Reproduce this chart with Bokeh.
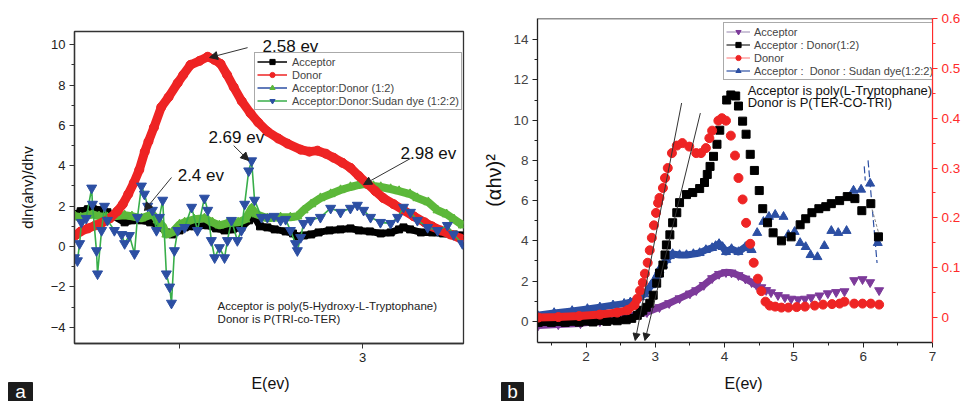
from bokeh.plotting import figure
from bokeh.models import (Range1d, LinearAxis, FixedTicker, Legend, LegendItem,
                          Arrow, NormalHead, Label, CustomJSTickFormatter, Span)
from bokeh.layouts import row, column
from bokeh.embed import file_html
from bokeh.resources import INLINE

FONT = "Liberation Sans"
RED = "#ee2424"
GREEN = "#5cb83a"
GREEN_LINE = "#38ae4a"
BLUE = "#2c4fa3"
PURPLE = "#7d3a9a"
RED_AXIS = "#ff2b2b"

# ---------------- Panel a data ----------------
a_acc_x = [2.215, 2.23, 2.25, 2.262, 2.28, 2.303, 2.32, 2.35, 2.37, 2.396, 2.42, 2.44, 2.464, 2.48, 2.50,
           2.514, 2.54, 2.577, 2.60, 2.623, 2.645, 2.669, 2.69, 2.705, 2.72, 2.74, 2.76, 2.79, 2.81, 2.822,
           2.84, 2.86, 2.88, 2.91, 2.94, 2.967, 2.99, 3.02, 3.05, 3.077, 3.10, 3.112, 3.13, 3.16, 3.19,
           3.22, 3.25, 3.274]
a_acc_y = [1.6, 1.75, 1.85, 1.9, 1.8, 1.7, 1.5, 1.2, 1.3, 1.3, 1.2, 1.1, 0.7, 0.6, 0.8, 0.95, 1.0, 1.05,
           0.9, 0.8, 0.85, 0.95, 1.3, 1.45, 1.0, 0.95, 0.85, 0.75, 0.65, 0.5, 0.55, 0.6, 0.7, 0.8, 0.85,
           0.9, 0.8, 0.75, 0.65, 0.7, 0.85, 0.95, 0.85, 0.7, 0.7, 0.65, 0.6, 0.55]

a_don_x = [2.215, 2.23, 2.25, 2.27, 2.29, 2.31, 2.33, 2.345, 2.36, 2.375, 2.39, 2.405, 2.415, 2.43, 2.45,
           2.47, 2.495, 2.51, 2.53, 2.555, 2.577, 2.595, 2.612, 2.63, 2.648, 2.67, 2.694, 2.715, 2.74,
           2.77, 2.795, 2.831, 2.855, 2.877, 2.90, 2.921, 2.945, 2.967, 2.99, 3.014, 3.035, 3.057, 3.085,
           3.112, 3.14, 3.17, 3.19, 3.213, 3.24, 3.268]
a_don_y = [0.55, 0.75, 0.9, 1.05, 1.2, 1.4, 1.75, 2.1, 2.6, 3.15, 3.8, 4.7, 5.2, 5.9, 6.9, 7.4, 8.1, 8.5,
           9.0, 9.2, 9.4, 9.25, 9.05, 8.5, 7.9, 7.2, 6.6, 6.15, 5.7, 5.35, 5.1, 4.8, 4.7, 4.75, 4.6, 4.4,
           4.15, 3.9, 3.5, 3.1, 2.75, 2.4, 2.1, 1.8, 1.5, 1.2, 1.0, 0.8, 0.6, 0.4]

a_ad_x = [2.215, 2.23, 2.25, 2.262, 2.28, 2.303, 2.32, 2.35, 2.37, 2.396, 2.426, 2.44, 2.455, 2.464, 2.48,
          2.50, 2.514, 2.54, 2.568, 2.59, 2.609, 2.63, 2.66, 2.68, 2.697, 2.71, 2.74, 2.776, 2.803, 2.822,
          2.839, 2.86, 2.885, 2.913, 2.94, 2.967, 2.99, 3.003, 3.03, 3.05, 3.077, 3.10, 3.13, 3.15, 3.18,
          3.205, 3.23, 3.25, 3.274]
a_ad_y = [1.5, 1.45, 1.55, 1.6, 1.5, 1.45, 1.5, 1.55, 1.5, 1.4, 1.6, 1.3, 1.0, 0.6, 0.7, 1.1, 1.2, 1.35,
          1.4, 1.2, 1.05, 1.15, 1.2, 1.35, 1.9, 1.6, 1.4, 1.45, 1.45, 1.5, 1.8, 2.1, 2.4, 2.6, 2.8, 2.95,
          3.05, 3.1, 3.0, 2.95, 2.85, 2.75, 2.6, 2.4, 2.2, 1.8, 1.6, 1.35, 1.05]

a_sud_x = [2.213, 2.221, 2.227, 2.232, 2.245, 2.260, 2.262, 2.273, 2.276, 2.287,
           2.295, 2.303, 2.322, 2.342, 2.350, 2.363, 2.377, 2.385, 2.396, 2.404,
           2.413, 2.426, 2.437, 2.445, 2.454, 2.464, 2.473, 2.478, 2.486, 2.495,
           2.514, 2.533, 2.549, 2.568, 2.577, 2.587, 2.596, 2.609, 2.623, 2.631,
           2.642, 2.658, 2.669, 2.678, 2.689, 2.697, 2.705, 2.724, 2.740, 2.758,
           2.776, 2.790, 2.803, 2.817, 2.822, 2.831, 2.839, 2.858, 2.885, 2.913,
           2.940, 2.967, 2.986, 3.003, 3.022, 3.049, 3.077, 3.096, 3.112, 3.131,
           3.150, 3.178, 3.205, 3.232, 3.249, 3.273]
a_sud_y = [-0.55, -0.7, 0.15, 1.2, 1.4, 2.9, 2.1, -0.2, -1.35, 0.8,
           2.0, 1.3, 0.8, 0.6, 0.15, 0.55, -0.35, 1.45, 3.0, 2.6,
           2.0, 1.8, 0.8, 1.45, 2.3, -1.35, -2.0, -2.8, -0.2, 0.8,
           0.95, 1.95, 0.8, 2.4, 1.8, 0.3, -0.55, -0.05, -0.55, 0.3,
           1.3, 0.3, 0.8, 2.1, 3.75, 4.25, 2.3, 1.45, 1.45, 1.5,
           1.3, 1.35, 0.8, 0.15, -0.2, 0.45, 1.15, 1.3, 1.45, 1.9,
           1.7, 1.9, 2.05, 1.8, 1.45, 1.2, 1.15, 1.45, 1.95, 1.7,
           1.3, 0.95, 0.8, 1.05, 0.6, 0.15]

a_xticks = [2.5, 3.0]
a_yticks = [-4, -2, 0, 2, 4, 6, 8, 10]
a_yminor = [-3, -1, 1, 3, 5, 7, 9]

a_peak_text = ["2.58 ev", "2.69 ev", "2.4 ev", "2.98 ev"]
a_peak_tx = [2.727, 2.579, 2.495, 3.104]
a_peak_ty = [9.9, 5.4, 3.51, 4.6]
a_arr_x0 = [2.686, 2.648, 2.478, 3.131]
a_arr_y0 = [9.85, 5.0, 3.42, 4.36]
a_arr_x1 = [2.582, 2.689, 2.404, 3.003]
a_arr_y1 = [9.36, 4.26, 1.78, 3.07]

# ---------------- Panel b data ----------------
b_acc_x = [1.31, 1.6, 1.92, 2.2, 2.49, 2.7, 2.88, 3.06, 3.2, 3.35, 3.5, 3.59, 3.7, 3.82, 3.92, 4.02, 4.1,
           4.2, 4.3, 4.39, 4.46, 4.53, 4.6, 4.67, 4.77, 4.87, 4.96, 5.06, 5.16, 5.25, 5.37, 5.49, 5.61,
           5.73, 5.87, 5.99, 6.10, 6.23]
b_acc_y = [-0.2, -0.15, -0.1, 0.0, 0.15, 0.3, 0.45, 0.7, 0.9, 1.14, 1.38, 1.54, 1.8, 2.14, 2.35, 2.44,
           2.42, 2.29, 2.12, 1.94, 1.8, 1.69, 1.55, 1.44, 1.3, 1.19, 1.12, 1.09, 1.12, 1.19, 1.28, 1.39,
           1.45, 1.49, 2.04, 2.09, 1.94, 1.54]

b_ad_x = [1.31, 1.5, 1.7, 1.9, 2.1, 2.3, 2.45, 2.58, 2.66, 2.74, 2.78, 2.82, 2.87, 2.92, 2.97, 3.02,
          3.06, 3.11, 3.14, 3.16, 3.21, 3.25, 3.31, 3.35, 3.45, 3.54, 3.64, 3.71, 3.75, 3.79, 3.84, 3.89,
          3.93, 4.03, 4.09, 4.16, 4.20, 4.26, 4.31, 4.37, 4.43, 4.50, 4.55, 4.62, 4.70, 4.82, 4.96, 5.09,
          5.17, 5.26, 5.36, 5.46, 5.54, 5.66, 5.77, 5.88, 5.98, 6.11, 6.22]
b_ad_y = [-0.05, -0.05, -0.05, -0.04, -0.03, 0.0, 0.03, 0.08, 0.15, 0.3, 0.45, 0.55, 0.7, 0.9, 1.3, 1.9,
          2.4, 2.8, 3.3, 3.8, 4.3, 4.9, 5.4, 5.9, 6.3, 6.4, 6.6, 6.9, 7.3, 7.7, 8.2, 8.8, 9.5, 11.0,
          11.25, 11.2, 10.7, 9.95, 9.3, 8.3, 7.5, 6.5, 5.6, 4.9, 4.4, 4.0, 4.2, 4.8, 5.1, 5.4, 5.6, 5.7,
          5.85, 6.0, 6.2, 6.1, 5.5, 5.85, 4.2]

b_don_x = [1.31, 1.6, 1.9, 2.2, 2.45, 2.6, 2.7, 2.74, 2.78, 2.82, 2.85, 2.89, 2.92, 2.95, 2.98, 3.01,
           3.04, 3.06, 3.11, 3.14, 3.18, 3.24, 3.31, 3.39, 3.49, 3.59, 3.66, 3.73, 3.78, 3.82, 3.91, 3.96,
           4.02, 4.09, 4.15, 4.20, 4.26, 4.31, 4.37, 4.42, 4.48, 4.53, 4.59, 4.65, 4.73, 4.82, 4.92, 5.04,
           5.16, 5.30, 5.42, 5.55, 5.66, 5.73, 5.87, 5.99, 6.11, 6.23]
b_don_y = [0.0, 0.001, 0.003, 0.006, 0.01, 0.015, 0.025, 0.038, 0.054, 0.07, 0.088, 0.11, 0.135, 0.16,
           0.185, 0.21, 0.23, 0.24, 0.26, 0.28, 0.30, 0.33, 0.345, 0.35, 0.343, 0.33, 0.33, 0.34, 0.36,
           0.375, 0.395, 0.40, 0.395, 0.365, 0.325, 0.28, 0.237, 0.19, 0.148, 0.11, 0.078, 0.053, 0.032,
           0.024, 0.022, 0.02, 0.02, 0.021, 0.022, 0.024, 0.026, 0.027, 0.028, 0.032, 0.028, 0.028,
           0.028, 0.026]

b_sud_x = [1.30, 1.54, 1.80, 2.02, 2.20, 2.39, 2.55, 2.64, 2.72, 2.78, 2.84, 2.89, 2.94, 2.99, 3.03, 3.06,
           3.11, 3.16, 3.21, 3.25, 3.35, 3.45, 3.55, 3.64, 3.73, 3.82, 3.87, 3.92, 3.97, 4.02, 4.10, 4.20,
           4.30, 4.39, 4.47, 4.56, 4.64, 4.73, 4.85, 4.92, 5.01, 5.09, 5.17, 5.24, 5.34, 5.44, 5.54, 5.64,
           5.76, 5.86, 5.97, 6.10, 6.21]
b_sud_y = [0.30, 0.42, 0.52, 0.62, 0.70, 0.80, 0.88, 0.95, 1.05, 1.20, 1.35, 1.55, 1.80, 2.05, 2.30,
           2.55, 2.80, 3.05, 3.25, 3.35, 3.30, 3.30, 3.35, 3.40, 3.55, 3.65, 3.75, 3.85, 3.70, 3.45, 3.60,
           3.45, 3.70, 3.55, 4.40, 4.95, 5.20, 5.30, 5.20, 4.30, 4.45, 3.90, 3.70, 3.30, 3.20, 3.75, 4.50,
           4.40, 4.50, 6.50, 6.55, 6.85, 3.90]

b_spike_xs = [[6.015, 6.03], [6.07, 6.20]]
b_spike_ys = [[7.7, 7.0], [8.0, 2.9]]
b_grey_x = [6.11, 6.23]
b_grey_y = [5.8, 4.3]

b_tan_x0 = [3.38, 3.65]
b_tan_y0 = [10.85, 10.35]
b_tan_x1 = [2.71, 2.85]
b_tan_y1 = [-0.95, -0.95]

b_xticks = [2, 3, 4, 5, 6, 7]
b_xminor = [1.5, 2.5, 3.5, 4.5, 5.5, 6.5]
b_yticks = [0, 2, 4, 6, 8, 10, 12, 14]
b_yminor = [1, 3, 5, 7, 9, 11, 13]
b_rticks = [0.0, 0.1, 0.2, 0.3, 0.4, 0.5, 0.6]
b_rminor = [0.05, 0.15, 0.25, 0.35, 0.45, 0.55]

# legend proxy point, placed outside the visible ranges
proxy_x = [0.0]
proxy_y = [-50.0]

# bottom strip: panel letters and x-axis titles
strip_letters = ["a", "b"]
strip_titles = ["E(ev)", "E(ev)"]

PLOT_H = 372
STRIP_H = 29


def style_axis(ax, size="13px", color="#222", line_color="#333"):
    ax.major_label_text_font = FONT
    ax.major_label_text_font_size = size
    ax.major_label_text_color = color
    ax.axis_label_text_font = FONT
    ax.axis_label_text_font_style = "normal"
    ax.axis_label_text_color = "#111"
    ax.major_tick_in = 0
    ax.major_tick_out = 5
    ax.minor_tick_in = 0
    ax.minor_tick_out = 3
    ax.major_label_standoff = 4
    ax.axis_line_color = line_color
    ax.major_tick_line_color = line_color
    ax.minor_tick_line_color = line_color
    ax.axis_line_width = 1.3


# ================= Panel a =================
pa = figure(width=480, height=PLOT_H, x_range=Range1d(2.213, 3.276), y_range=Range1d(-4.8, 10.65),
            output_backend="svg", toolbar_location=None,
            min_border_left=74, min_border_right=17, min_border_top=31, min_border_bottom=PLOT_H - 343)
pa.grid.visible = False
pa.outline_line_color = "#333"
pa.outline_line_width = 1.3

xa = pa.xaxis[0]
style_axis(xa)
xa.ticker = FixedTicker(ticks=a_xticks, minor_ticks=[])
xa.formatter = CustomJSTickFormatter(code="return Math.abs(tick - 3) < 1e-9 ? '3' : '';")

ya = pa.yaxis[0]
style_axis(ya)
ya.ticker = FixedTicker(ticks=a_yticks, minor_ticks=a_yminor)
ya.axis_label = "dln(ahv)/dhv"
ya.axis_label_text_font_size = "15px"
ya.axis_label_standoff = 12

pa.line(a_acc_x, a_acc_y, line_width=7, color="black", line_join="round")
pa.scatter(a_acc_x, a_acc_y, marker="square", size=7, color="black")
pa.line(a_ad_x, a_ad_y, line_width=8, color=GREEN, line_join="round")
pa.scatter(a_ad_x, a_ad_y, marker="triangle", size=9, color=GREEN)
pa.line(a_don_x, a_don_y, line_width=9, color=RED, line_join="round")
pa.scatter(a_don_x, a_don_y, marker="circle", size=9, color=RED)
pa.line(a_sud_x, a_sud_y, line_width=1.6, color=GREEN_LINE)
pa.scatter(a_sud_x, a_sud_y, marker="inverted_triangle", size=10, color=BLUE)

la1 = pa.line(proxy_x, proxy_y, color="black", line_width=1.5)
sa1 = pa.scatter(proxy_x, proxy_y, marker="square", color="black")
la2 = pa.line(proxy_x, proxy_y, color=RED, line_width=1.5)
sa2 = pa.scatter(proxy_x, proxy_y, marker="circle", color=RED)
la3 = pa.line(proxy_x, proxy_y, color=BLUE, line_width=1.5)
sa3 = pa.scatter(proxy_x, proxy_y, marker="triangle", color=GREEN)
la4 = pa.line(proxy_x, proxy_y, color=GREEN_LINE, line_width=1.5)
sa4 = pa.scatter(proxy_x, proxy_y, marker="inverted_triangle", color=BLUE)
leg_a = Legend(items=[LegendItem(label="Acceptor", renderers=[la1, sa1]),
                      LegendItem(label="Donor", renderers=[la2, sa2]),
                      LegendItem(label="Acceptor:Donor (1:2)", renderers=[la3, sa3]),
                      LegendItem(label="Acceptor:Donor:Sudan dye (1:2:2)", renderers=[la4, sa4])],
               location=(180, 233), padding=2, margin=0, spacing=0, label_height=13, glyph_height=13,
               glyph_width=30, label_standoff=5, label_text_font=FONT, label_text_font_size="11px",
               border_line_color="#555", border_line_width=1, background_fill_alpha=1)
pa.add_layout(leg_a)

for i in range(len(a_peak_text)):
    pa.add_layout(Arrow(x_start=a_arr_x0[i], y_start=a_arr_y0[i], x_end=a_arr_x1[i], y_end=a_arr_y1[i],
                        line_color="#333", line_width=1,
                        end=NormalHead(size=8, fill_color="#222", line_color="#222", line_width=1)))
    pa.add_layout(Label(x=a_peak_tx[i], y=a_peak_ty[i], text=a_peak_text[i], text_font=FONT,
                        text_font_size="17px", text_baseline="middle", text_color="#111"))

pa.add_layout(Label(x=2.604, y=-2.92, text="Acceptor is poly(5-Hydroxy-L-Tryptophane)", text_font=FONT,
                    text_font_size="11.5px", text_baseline="middle", text_color="#222"))
pa.add_layout(Label(x=2.604, y=-3.61, text="Donor is P(TRI-co-TER)", text_font=FONT,
                    text_font_size="11.5px", text_baseline="middle", text_color="#222"))

# ================= Panel b =================
pb = figure(width=483, height=PLOT_H, x_range=Range1d(1.3, 7.0), y_range=Range1d(-1.05, 15.05),
            output_backend="svg", toolbar_location=None,
            min_border_left=56, min_border_right=26, min_border_top=18, min_border_bottom=PLOT_H - 342)
pb.extra_y_ranges = {"right": Range1d(-0.05, 0.6)}
pb.grid.visible = False
pb.outline_line_color = None

xb = pb.xaxis[0]
style_axis(xb, size="13.5px", color="#333", line_color="#222")
xb.ticker = FixedTicker(ticks=b_xticks, minor_ticks=b_xminor)

yb = pb.yaxis[0]
style_axis(yb, size="13.5px", color="#444", line_color="#222")
yb.ticker = FixedTicker(ticks=b_yticks, minor_ticks=b_yminor)
yb.axis_label = "(\u03b1h\u03bd)\u00b2"
yb.axis_label_text_font_size = "20px"
yb.axis_label_standoff = 5

pb.add_layout(Span(location=15.05, dimension="width", line_color="#222", line_width=1.3))

rb = LinearAxis(y_range_name="right", ticker=FixedTicker(ticks=b_rticks, minor_ticks=b_rminor))
style_axis(rb, size="13.5px", color=RED_AXIS, line_color=RED_AXIS)
pb.add_layout(rb, "right")

nb_acc = 21
pb.line(b_acc_x[:nb_acc], b_acc_y[:nb_acc], line_width=7, color=PURPLE, line_join="round")
pb.scatter(b_acc_x, b_acc_y, marker="inverted_triangle", size=9, color=PURPLE)
nb_sud = 34
pb.line(b_sud_x[:nb_sud], b_sud_y[:nb_sud], line_width=7, color=BLUE, line_join="round")
pb.scatter(b_sud_x, b_sud_y, marker="triangle", size=9, color=BLUE)
pb.multi_line(b_spike_xs, b_spike_ys, line_color=BLUE, line_width=1.2, line_dash="7 3")
pb.line(b_grey_x, b_grey_y, line_color="#888", line_width=1, line_dash="3 2")
nb_ad = 11
pb.line(b_ad_x[:nb_ad], b_ad_y[:nb_ad], line_width=7, color="black", line_join="round")
pb.scatter(b_ad_x, b_ad_y, marker="square", size=8, color="black")
nb_don = 8
pb.line(b_don_x[:nb_don], b_don_y[:nb_don], line_width=8, color=RED, line_join="round",
        y_range_name="right")
pb.scatter(b_don_x, b_don_y, marker="circle", size=9, color=RED, y_range_name="right")

for i in range(len(b_tan_x0)):
    pb.add_layout(Arrow(x_start=b_tan_x0[i], y_start=b_tan_y0[i], x_end=b_tan_x1[i], y_end=b_tan_y1[i],
                        line_color="#333", line_width=1,
                        end=NormalHead(size=7, fill_color="#222", line_color="#222", line_width=1)))

lb1 = pb.line(proxy_x, proxy_y, color="#a89bbd", line_width=1.2)
sb1 = pb.scatter(proxy_x, proxy_y, marker="inverted_triangle", color=PURPLE)
lb2 = pb.line(proxy_x, proxy_y, color="#222", line_width=1.2)
sb2 = pb.scatter(proxy_x, proxy_y, marker="square", color="black")
lb3 = pb.line(proxy_x, proxy_y, color="#ff8a8a", line_width=1.2)
sb3 = pb.scatter(proxy_x, proxy_y, marker="circle", color=RED)
lb4 = pb.line(proxy_x, proxy_y, color=BLUE, line_width=1.2)
sb4 = pb.scatter(proxy_x, proxy_y, marker="triangle", color=BLUE)
leg_b = Legend(items=[LegendItem(label="Acceptor", renderers=[lb1, sb1]),
                      LegendItem(label="Acceptor : Donor(1:2)", renderers=[lb2, sb2]),
                      LegendItem(label="Donor", renderers=[lb3, sb3]),
                      LegendItem(label="Acceptor :  Donor : Sudan dye(1:2:2)", renderers=[lb4, sb4])],
               location=(186, 262), padding=2, margin=0, spacing=0, label_height=13, glyph_height=13,
               glyph_width=24, label_standoff=4, label_text_font=FONT, label_text_font_size="11px",
               border_line_color="#555", border_line_width=1, background_fill_alpha=1)
pb.add_layout(leg_b)

pb.add_layout(Label(x=4.333, y=11.49, text="Acceptor is poly(L-Tryptophane)", text_font=FONT,
                    text_font_size="13px", text_baseline="middle", text_color="#111"))
pb.add_layout(Label(x=4.333, y=10.9, text="Donor is P(TER-CO-TRI)", text_font=FONT,
                    text_font_size="13px", text_baseline="middle", text_color="#111"))

# ================= bottom strip (pixel coordinates) =================
strip = figure(width=963, height=STRIP_H, x_range=Range1d(0, 963), y_range=Range1d(STRIP_H, 0),
               output_backend="svg", toolbar_location=None, min_border=0,
               x_axis_location=None, y_axis_location=None)
strip.grid.visible = False
strip.outline_line_color = None
strip.quad(left=[8, 501], right=[32, 523], top=[10, 10], bottom=[STRIP_H, STRIP_H], color="#1c1c1c")
strip.text(x=[20, 512], y=[18.5, 18.5], text=strip_letters, text_color="white", text_align="center",
           text_baseline="middle", text_font_size="19px", text_font={"value": FONT})
strip.text(x=[270, 743], y=[11, 11], text=strip_titles, text_color="#111", text_align="center",
           text_baseline="middle", text_font_size="16px", text_font={"value": FONT})

layout = column(row(column(pa), column(pb), spacing=0), strip, spacing=0)
open("out.html", "w").write(file_html(layout, INLINE))
